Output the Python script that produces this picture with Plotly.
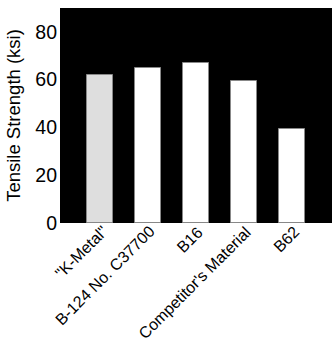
import plotly.graph_objects as go

materials = ['"K-Metal"', "B-124 No. C37700", "B16", "Competitor's Material", "B62"]
tensile_ksi = [62, 65, 67, 59.5, 39.5]
bar_colors = ["#dedede", "#ffffff", "#ffffff", "#ffffff", "#ffffff"]

y_ticks = [0, 20, 40, 60, 80]

positions = list(range(len(materials)))

fig = go.Figure(
    go.Bar(
        x=positions,
        y=tensile_ksi,
        width=0.55,
        marker=dict(color=bar_colors, line=dict(color="#888888", width=1)),
    )
)

font_family = "Liberation Sans, Arial, sans-serif"

fig.update_layout(
    width=332,
    height=345,
    margin=dict(l=60, r=0, t=8, b=122),
    paper_bgcolor="white",
    plot_bgcolor="black",
    showlegend=False,
    font=dict(family=font_family, color="black", size=16),
    bargap=0,
)

# Category labels: slanted text whose upper-right corner sits just below each bar
for pos, name in zip(positions, materials):
    fig.add_annotation(
        x=pos,
        y=0,
        xref="x",
        yref="y",
        text=name,
        textangle=-45,
        showarrow=False,
        xanchor="right",
        yanchor="top",
        xshift=13,
        yshift=3,
        font=dict(size=16, family=font_family, color="black"),
    )

fig.update_xaxes(
    tickmode="array",
    tickvals=positions,
    showticklabels=False,
    range=[-0.83, 4.83],
    showgrid=False,
    zeroline=False,
    ticks="",
    automargin=False,
)

fig.update_yaxes(
    title=dict(text="Tensile Strength (ksi)", font=dict(size=18.5), standoff=9),
    range=[0, 90],
    tickvals=y_ticks,
    showgrid=False,
    zeroline=False,
    ticks="",
    automargin=False,
    ticklabelstandoff=2,
    tickfont=dict(size=19.5),
)

fig.write_html("out.html")
